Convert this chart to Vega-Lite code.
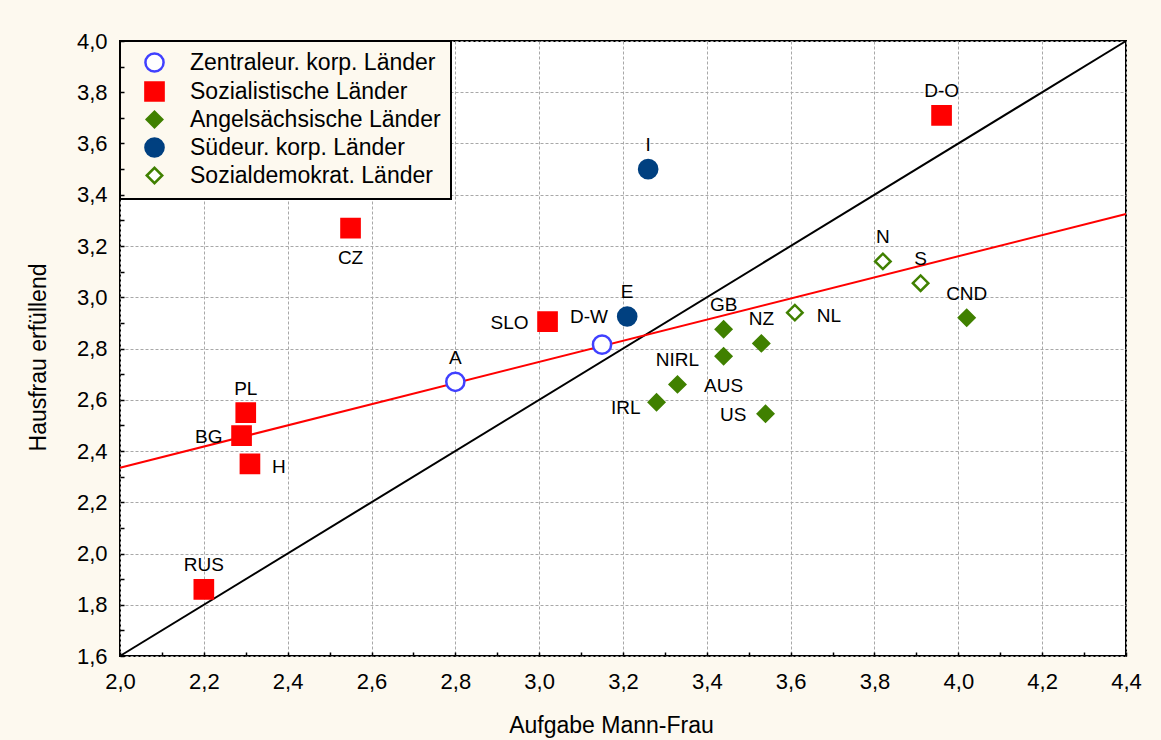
{
  "$schema": "https://vega.github.io/schema/vega-lite/v6.json",
  "width": 1006,
  "height": 615,
  "autosize": {"type": "none"},
  "padding": {"left": 120, "top": 41, "right": 35, "bottom": 84},
  "background": "#fdf9ef",
  "config": {
    "font": "Liberation Sans",
    "view": {"fill": "white", "stroke": "black", "strokeWidth": 2},
    "axis": {
      "domain": false,
      "tickColor": "black",
      "tickWidth": 1.5,
      "tickSize": -4,
      "labelFont": "Liberation Sans",
      "labelFontSize": 22,
      "labelColor": "black",
      "labelFlush": false,
      "labelOverlap": false,
      "labelBound": false,
      "titleFont": "Liberation Sans",
      "titleFontSize": 23,
      "titleFontWeight": "normal",
      "titleColor": "black",
      "gridColor": "#a8a8a8",
      "gridDash": [3, 2],
      "gridWidth": 1,
      "gridOpacity": 1
    },
    "legend": {
      "orient": "top-left",
      "offset": 0,
      "fillColor": "#fdf9ef",
      "strokeColor": "black",
      "strokeWidth": 2,
      "padding": 10,
      "rowPadding": 0,
      "symbolSize": 330,
      "symbolStrokeWidth": 2.5,
      "symbolOffset": 13,
      "labelOffset": 24,
      "labelFont": "Liberation Sans",
      "labelFontSize": 23,
      "labelColor": "black",
      "labelLimit": 500
    }
  },
  "datasets": {
    "points": [
      {"land": "A", "group": "Zentraleur. korp. Länder", "x": 2.80, "y": 2.67},
      {"land": "D-W", "group": "Zentraleur. korp. Länder", "x": 3.15, "y": 2.815},
      {"land": "CZ", "group": "Sozialistische Länder", "x": 2.55, "y": 3.27},
      {"land": "SLO", "group": "Sozialistische Länder", "x": 3.02, "y": 2.905},
      {"land": "PL", "group": "Sozialistische Länder", "x": 2.30, "y": 2.55},
      {"land": "BG", "group": "Sozialistische Länder", "x": 2.29, "y": 2.46},
      {"land": "H", "group": "Sozialistische Länder", "x": 2.31, "y": 2.35},
      {"land": "RUS", "group": "Sozialistische Länder", "x": 2.20, "y": 1.86},
      {"land": "D-O", "group": "Sozialistische Länder", "x": 3.96, "y": 3.71},
      {"land": "IRL", "group": "Angelsächsische Länder", "x": 3.28, "y": 2.59},
      {"land": "NIRL", "group": "Angelsächsische Länder", "x": 3.33, "y": 2.66},
      {"land": "GB", "group": "Angelsächsische Länder", "x": 3.44, "y": 2.875},
      {"land": "AUS", "group": "Angelsächsische Länder", "x": 3.44, "y": 2.77},
      {"land": "NZ", "group": "Angelsächsische Länder", "x": 3.53, "y": 2.82},
      {"land": "US", "group": "Angelsächsische Länder", "x": 3.54, "y": 2.545},
      {"land": "CND", "group": "Angelsächsische Länder", "x": 4.02, "y": 2.92},
      {"land": "I", "group": "Südeur. korp. Länder", "x": 3.26, "y": 3.50},
      {"land": "E", "group": "Südeur. korp. Länder", "x": 3.21, "y": 2.925},
      {"land": "NL", "group": "Sozialdemokrat. Länder", "x": 3.61, "y": 2.94},
      {"land": "N", "group": "Sozialdemokrat. Länder", "x": 3.82, "y": 3.14},
      {"land": "S", "group": "Sozialdemokrat. Länder", "x": 3.91, "y": 3.055}
    ],
    "lines": [
      {"line": "diag", "x": 2.0, "y": 1.6},
      {"line": "diag", "x": 4.4, "y": 4.0},
      {"line": "reg", "x": 2.0, "y": 2.335},
      {"line": "reg", "x": 4.4, "y": 3.325}
    ]
  },
  "resolve": {"axis": {"x": "independent", "y": "independent"}},
  "layer": [
    {
      "data": {"name": "lines"},
      "transform": [{"filter": "datum.line == 'diag'"}],
      "mark": {"type": "line", "color": "black", "strokeWidth": 2},
      "encoding": {
        "x": {
          "field": "x", "type": "quantitative",
          "scale": {"domain": [2.0, 4.4], "nice": false, "zero": false},
          "axis": {
            "orient": "bottom", "grid": false, "labels": false, "title": null, "zindex": 1,
            "values": [2.0, 2.1, 2.2, 2.3, 2.4, 2.5, 2.6, 2.7, 2.8, 2.9, 3.0, 3.1, 3.2, 3.3, 3.4, 3.5, 3.6, 3.7, 3.8, 3.9, 4.0, 4.1, 4.2, 4.3, 4.4]
          }
        },
        "y": {
          "field": "y", "type": "quantitative",
          "scale": {"domain": [1.6, 4.0], "nice": false, "zero": false},
          "axis": {
            "orient": "left", "grid": false, "labels": false, "title": null, "zindex": 1,
            "values": [1.6, 1.7, 1.8, 1.9, 2.0, 2.1, 2.2, 2.3, 2.4, 2.5, 2.6, 2.7, 2.8, 2.9, 3.0, 3.1, 3.2, 3.3, 3.4, 3.5, 3.6, 3.7, 3.8, 3.9, 4.0]
          }
        }
      }
    },
    {
      "data": {"name": "lines"},
      "transform": [{"filter": "datum.line == 'reg'"}],
      "mark": {"type": "line", "color": "#ff0000", "strokeWidth": 2},
      "encoding": {
        "x": {
          "field": "x", "type": "quantitative",
          "scale": {"domain": [2.0, 4.4], "nice": false, "zero": false},
          "axis": {
            "orient": "bottom", "grid": true, "ticks": false, "zindex": 0,
            "gridColor": "#a8a8a8",
            "title": "Aufgabe Mann-Frau",
            "values": [2.0, 2.2, 2.4, 2.6, 2.8, 3.0, 3.2, 3.4, 3.6, 3.8, 4.0, 4.2, 4.4],
            "labelExpr": "replace(format(datum.value, '.1f'), '.', ',')",
            "labelPadding": 15.5,
            "titleX": 491,
            "titleY": 69,
            "titleBaseline": "middle",
            "titleAlign": "center"
          }
        },
        "y": {
          "field": "y", "type": "quantitative",
          "scale": {"domain": [1.6, 4.0], "nice": false, "zero": false},
          "axis": {
            "orient": "left", "grid": true, "ticks": false, "zindex": 0,
            "gridColor": "#a8a8a8",
            "title": "Hausfrau erfüllend",
            "values": [1.6, 1.8, 2.0, 2.2, 2.4, 2.6, 2.8, 3.0, 3.2, 3.4, 3.6, 3.8, 4.0],
            "labelExpr": "replace(format(datum.value, '.1f'), '.', ',')",
            "labelPadding": 13,
            "titleX": -82,
            "titleY": 316,
            "titleBaseline": "middle",
            "titleAlign": "center"
          }
        }
      }
    },
    {
      "data": {"name": "points"},
      "mark": {"type": "point", "filled": true, "opacity": 1, "fillOpacity": 1, "strokeOpacity": 1, "size": 330, "strokeWidth": 2.5},
      "encoding": {
        "x": {"field": "x", "type": "quantitative", "axis": null},
        "y": {"field": "y", "type": "quantitative", "axis": null},
        "shape": {
          "field": "group", "type": "nominal",
          "scale": {
            "domain": ["Zentraleur. korp. Länder", "Sozialistische Länder", "Angelsächsische Länder", "Südeur. korp. Länder", "Sozialdemokrat. Länder"],
            "range": ["circle", "square", "M-0.85,0L0,-0.85L0.85,0L0,0.85Z", "circle", "M-0.85,0L0,-0.85L0.85,0L0,0.85Z"]
          },
          "legend": {"title": null}
        },
        "fill": {
          "field": "group", "type": "nominal",
          "scale": {
            "domain": ["Zentraleur. korp. Länder", "Sozialistische Länder", "Angelsächsische Länder", "Südeur. korp. Länder", "Sozialdemokrat. Länder"],
            "range": ["white", "#ff0000", "#408000", "#004080", "white"]
          },
          "legend": {"title": null}
        },
        "stroke": {
          "field": "group", "type": "nominal",
          "scale": {
            "domain": ["Zentraleur. korp. Länder", "Sozialistische Länder", "Angelsächsische Länder", "Südeur. korp. Länder", "Sozialdemokrat. Länder"],
            "range": ["#4040ff", "#ff0000", "#408000", "#004080", "#408000"]
          },
          "legend": {"title": null}
        }
      }
    },
    {
      "data": {"name": "points"},
      "transform": [{"filter": {"field": "land", "oneOf": ["D-O", "I", "E", "A", "PL", "NIRL", "GB", "NZ", "N", "S", "CND", "RUS"]}}],
      "mark": {"type": "text", "fontSize": 19, "color": "black", "align": "center", "baseline": "middle", "dy": -24},
      "encoding": {
        "x": {"field": "x", "type": "quantitative", "axis": null},
        "y": {"field": "y", "type": "quantitative", "axis": null},
        "text": {"field": "land"}
      }
    },
    {
      "data": {"name": "points"},
      "transform": [{"filter": {"field": "land", "oneOf": ["D-W"]}}],
      "mark": {"type": "text", "fontSize": 19, "color": "black", "align": "center", "baseline": "middle", "dx": -13, "dy": -28},
      "encoding": {
        "x": {"field": "x", "type": "quantitative", "axis": null},
        "y": {"field": "y", "type": "quantitative", "axis": null},
        "text": {"field": "land"}
      }
    },
    {
      "data": {"name": "points"},
      "transform": [{"filter": {"field": "land", "oneOf": ["CZ", "AUS"]}}],
      "mark": {"type": "text", "fontSize": 19, "color": "black", "align": "center", "baseline": "middle", "dy": 30},
      "encoding": {
        "x": {"field": "x", "type": "quantitative", "axis": null},
        "y": {"field": "y", "type": "quantitative", "axis": null},
        "text": {"field": "land"}
      }
    },
    {
      "data": {"name": "points"},
      "transform": [{"filter": {"field": "land", "oneOf": ["SLO", "BG", "US"]}}],
      "mark": {"type": "text", "fontSize": 19, "color": "black", "align": "right", "baseline": "middle", "dx": -19, "dy": 1},
      "encoding": {
        "x": {"field": "x", "type": "quantitative", "axis": null},
        "y": {"field": "y", "type": "quantitative", "axis": null},
        "text": {"field": "land"}
      }
    },
    {
      "data": {"name": "points"},
      "transform": [{"filter": {"field": "land", "oneOf": ["IRL"]}}],
      "mark": {"type": "text", "fontSize": 19, "color": "black", "align": "right", "baseline": "middle", "dx": -16, "dy": 6},
      "encoding": {
        "x": {"field": "x", "type": "quantitative", "axis": null},
        "y": {"field": "y", "type": "quantitative", "axis": null},
        "text": {"field": "land"}
      }
    },
    {
      "data": {"name": "points"},
      "transform": [{"filter": {"field": "land", "oneOf": ["H", "NL"]}}],
      "mark": {"type": "text", "fontSize": 19, "color": "black", "align": "left", "baseline": "middle", "dx": 22, "dy": 3},
      "encoding": {
        "x": {"field": "x", "type": "quantitative", "axis": null},
        "y": {"field": "y", "type": "quantitative", "axis": null},
        "text": {"field": "land"}
      }
    }
  ]
}
